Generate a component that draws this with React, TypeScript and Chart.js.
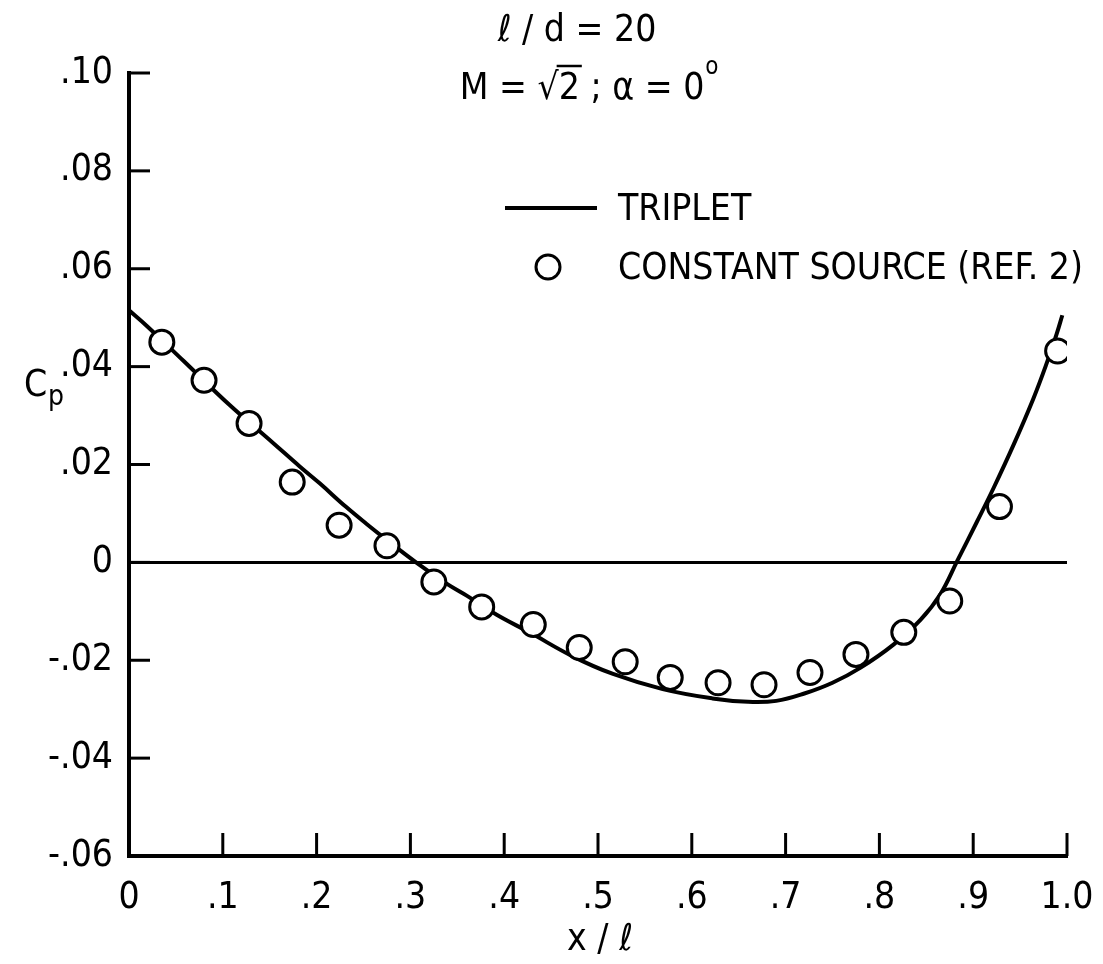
import React, { useEffect, useRef } from "react";
import { Chart, registerables } from "chart.js";

Chart.register(...registerables);

// TRIPLET curve (x/l, Cp)
const curveX = [0.0, 0.019, 0.058, 0.107, 0.153, 0.182, 0.203, 0.231, 0.253, 0.274, 0.306, 0.339, 0.36, 0.392, 0.427, 0.473, 0.516, 0.569, 0.622, 0.66, 0.69, 0.72, 0.75, 0.78, 0.815, 0.844, 0.865, 0.883, 0.904, 0.922, 0.943, 0.964, 0.978, 0.989, 0.995];
const curveY = [0.0515, 0.0483, 0.0412, 0.0322, 0.0245, 0.0196, 0.0162, 0.0114, 0.0079, 0.0047, 0.0, -0.0044, -0.0068, -0.0107, -0.0143, -0.0192, -0.0228, -0.0259, -0.0278, -0.0285, -0.0283, -0.0268, -0.0246, -0.0215, -0.0168, -0.0117, -0.0065, 0.0003, 0.0083, 0.0153, 0.0240, 0.0334, 0.0405, 0.0467, 0.0505];

// CONSTANT SOURCE (REF. 2) points
const sourceX = [0.035, 0.08, 0.128, 0.174, 0.224, 0.275, 0.325, 0.376, 0.431, 0.48, 0.529, 0.577, 0.628, 0.677, 0.726, 0.775, 0.826, 0.875, 0.928, 0.99];
const sourceY = [0.045, 0.0372, 0.0284, 0.0164, 0.0076, 0.0034, -0.004, -0.0091, -0.0127, -0.0174, -0.0203, -0.0235, -0.0246, -0.025, -0.0225, -0.0188, -0.0143, -0.0079, 0.0114, 0.0432];

const xTicks = [0, 0.1, 0.2, 0.3, 0.4, 0.5, 0.6, 0.7, 0.8, 0.9, 1.0];
const yTicks = [-0.06, -0.04, -0.02, 0, 0.02, 0.04, 0.06, 0.08, 0.1];

const titleLine1 = "ℓ / d = 20";
const legendLine = "TRIPLET";
const legendCircle = "CONSTANT SOURCE (REF. 2)";
const xTitle = "x / ℓ";

const FONT = "'DejaVu Sans Condensed', 'Liberation Sans Narrow', sans-serif";
const FS = 37;

function fmtX(v: number): string {
  const r = Math.round(v * 10) / 10;
  if (r === 0) return "0";
  if (r === 1) return "1.0";
  return "." + Math.round(r * 10);
}
function fmtY(v: number): string {
  const r = Math.round(v * 100);
  if (r === 0) return "0";
  const s = Math.abs(r).toString().padStart(2, "0");
  return (r < 0 ? "-." : ".") + s;
}

const decorPlugin = {
  id: "decor",
  beforeDatasetsDraw(chart: any) {
    const { ctx, chartArea, scales } = chart;
    const y0 = scales.y.getPixelForValue(0);
    ctx.save();
    ctx.strokeStyle = "#000";
    ctx.lineWidth = 3;
    ctx.beginPath();
    ctx.moveTo(chartArea.left, y0);
    ctx.lineTo(chartArea.right, y0);
    ctx.stroke();
    ctx.restore();
  },
  afterDraw(chart: any) {
    const { ctx, chartArea, scales } = chart;
    ctx.save();
    ctx.strokeStyle = "#000";
    ctx.fillStyle = "#000";
    ctx.lineWidth = 3;
    // inward ticks
    yTicks.forEach((v) => {
      const p = scales.y.getPixelForValue(v);
      ctx.beginPath();
      ctx.moveTo(chartArea.left, p);
      ctx.lineTo(chartArea.left + 21, p);
      ctx.stroke();
    });
    xTicks.forEach((v) => {
      const p = scales.x.getPixelForValue(v);
      ctx.beginPath();
      ctx.moveTo(p, chartArea.bottom);
      ctx.lineTo(p, chartArea.bottom - 23);
      ctx.stroke();
    });

    ctx.font = `${FS}px ${FONT}`;
    ctx.textBaseline = "alphabetic";
    // title line 1
    ctx.textAlign = "center";
    ctx.fillText(titleLine1, 577, 41);
    // title line 2: M = √2 ; α = 0°
    ctx.textAlign = "left";
    const p1 = "M = √";
    const p2 = "2";
    const p3 = " ; α = 0";
    const w1 = ctx.measureText(p1).width;
    const w2 = ctx.measureText(p2).width;
    const w3 = ctx.measureText(p3).width;
    const total = w1 + w2 + w3 + 14;
    const x = 589 - total / 2;
    ctx.fillText(p1, x, 99);
    ctx.fillText(p2, x + w1, 99);
    ctx.lineWidth = 2.5;
    ctx.beginPath();
    ctx.moveTo(x + w1 - 2, 66);
    ctx.lineTo(x + w1 + w2 + 2, 66);
    ctx.stroke();
    ctx.fillText(p3, x + w1 + w2, 99);
    ctx.font = `24px ${FONT}`;
    ctx.fillText("o", x + w1 + w2 + w3 + 1, 74);

    // legend
    ctx.font = `${FS}px ${FONT}`;
    ctx.lineWidth = 4;
    ctx.beginPath();
    ctx.moveTo(505, 208);
    ctx.lineTo(597, 208);
    ctx.stroke();
    ctx.fillText(legendLine, 618, 220);
    ctx.lineWidth = 3;
    ctx.beginPath();
    ctx.arc(548, 267, 12, 0, Math.PI * 2);
    ctx.fillStyle = "#fff";
    ctx.fill();
    ctx.stroke();
    ctx.fillStyle = "#000";
    ctx.fillText(legendCircle, 618, 279);

    // axis titles
    ctx.textAlign = "center";
    ctx.fillText(xTitle, 600, 950);
    ctx.textAlign = "left";
    ctx.fillText("C", 24, 396);
    ctx.font = `28px ${FONT}`;
    ctx.fillText("p", 48, 405);
    ctx.restore();
  },
};

export default function App() {
  const ref = useRef<HTMLCanvasElement>(null);
  useEffect(() => {
    if (!ref.current) return;
    const chart = new Chart(ref.current, {
      type: "scatter",
      data: {
        datasets: [
          {
            label: legendCircle,
            data: sourceX.map((x, i) => ({ x, y: sourceY[i] })),
            pointRadius: 12,
            pointBorderWidth: 3,
            pointBackgroundColor: "#fff",
            pointBorderColor: "#000",
            showLine: false,
            order: 1,
          },
          {
            label: legendLine,
            data: curveX.map((x, i) => ({ x, y: curveY[i] })),
            showLine: true,
            borderColor: "#000",
            borderWidth: 4,
            pointRadius: 0,
            tension: 0.4,
            order: 2,
          },
        ],
      },
      options: {
        animation: false,
        responsive: false,
        devicePixelRatio: 1,
        layout: { padding: { top: 73, right: 36, left: 0, bottom: 0 } },
        plugins: { legend: { display: false }, tooltip: { enabled: false } },
        scales: {
          x: {
            type: "linear",
            min: 0,
            max: 1,
            afterFit: (s: any) => { s.height = 108; s.paddingLeft = 0; s.paddingRight = 0; },
            afterBuildTicks: (s: any) => { s.ticks = xTicks.map((v) => ({ value: v })); },
            ticks: {
              autoSkip: false,
              maxRotation: 0,
              padding: 20,
              color: "#000",
              font: { family: FONT, size: FS },
              callback: (v: any) => fmtX(Number(v)),
            },
            grid: { display: false, drawTicks: false },
            border: { display: true, color: "#000", width: 4 },
          },
          y: {
            type: "linear",
            min: -0.06,
            max: 0.1,
            afterFit: (s: any) => { s.width = 129; s.paddingTop = 0; s.paddingBottom = 0; },
            afterBuildTicks: (s: any) => { s.ticks = yTicks.map((v) => ({ value: v })); },
            ticks: {
              autoSkip: false,
              padding: 16,
              color: "#000",
              font: { family: FONT, size: FS },
              callback: (v: any) => fmtY(Number(v)),
            },
            grid: { display: false, drawTicks: false },
            border: { display: true, color: "#000", width: 4 },
          },
        },
      },
      plugins: [decorPlugin],
    } as any);
    return () => chart.destroy();
  }, []);
  return (
    <div style={{ position: "absolute", left: 0, top: 0, width: 1103, height: 964, background: "#fff" }}>
      <canvas ref={ref} width={1103} height={964} style={{ display: "block" }} />
    </div>
  );
}
